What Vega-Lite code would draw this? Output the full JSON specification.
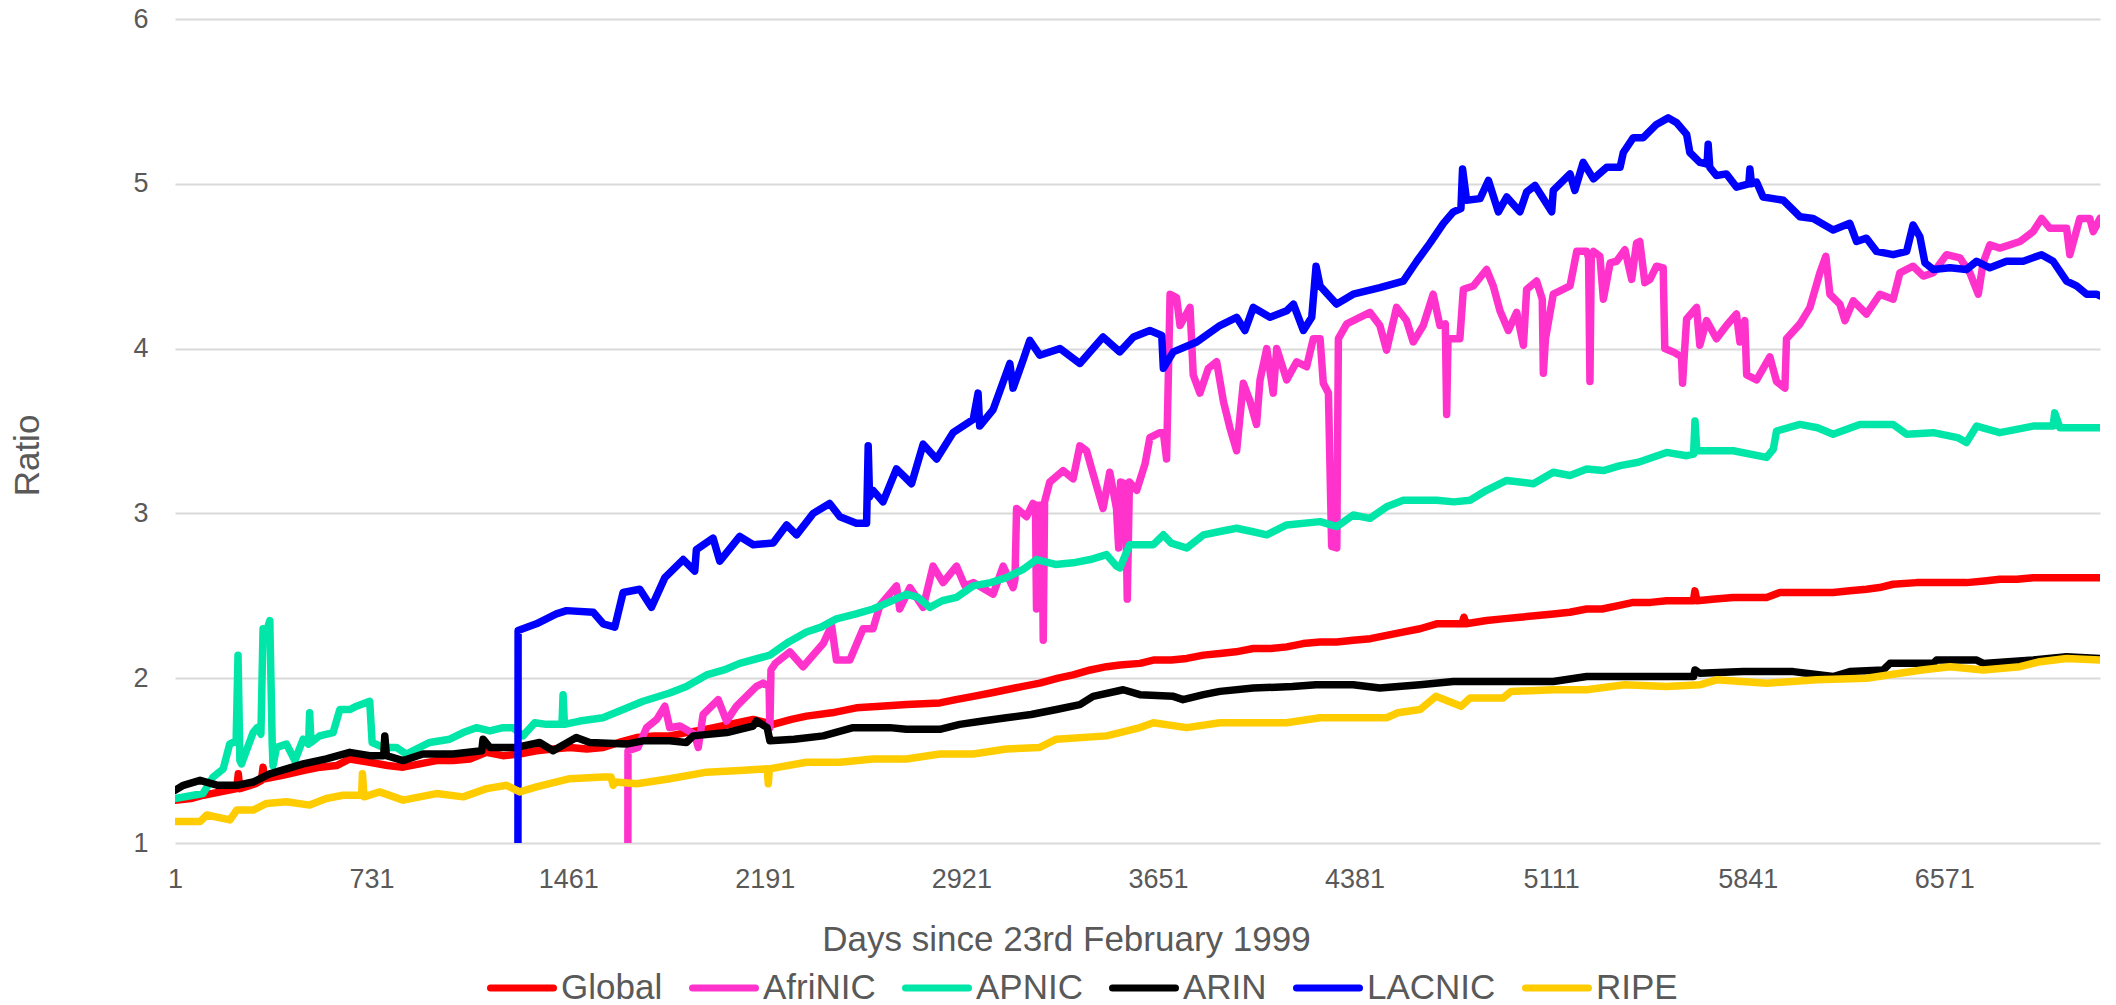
{
"$schema": "https://vega.github.io/schema/vega-lite/v6.json",
"width": 1925, "height": 824,
"autosize": {"type": "none"},
"padding": {"left": 175, "top": 19, "right": 16, "bottom": 162},
"background": "white",
"config": {"view": {"stroke": null}, "font": "Liberation Sans"},
"datasets": {
"Global": [{"d":1,"v":1.26},{"d":60,"v":1.27},{"d":106,"v":1.29},{"d":170,"v":1.31},{"d":230,"v":1.33},{"d":236,"v":1.42},{"d":242,"v":1.33},{"d":300,"v":1.36},{"d":322,"v":1.38},{"d":328,"v":1.46},{"d":334,"v":1.39},{"d":400,"v":1.41},{"d":477,"v":1.44},{"d":540,"v":1.46},{"d":601,"v":1.47},{"d":650,"v":1.51},{"d":724,"v":1.49},{"d":790,"v":1.47},{"d":848,"v":1.46},{"d":910,"v":1.48},{"d":972,"v":1.5},{"d":1034,"v":1.5},{"d":1096,"v":1.51},{"d":1158,"v":1.55},{"d":1219,"v":1.53},{"d":1280,"v":1.54},{"d":1343,"v":1.56},{"d":1405,"v":1.57},{"d":1467,"v":1.58},{"d":1530,"v":1.57},{"d":1591,"v":1.58},{"d":1650,"v":1.61},{"d":1715,"v":1.64},{"d":1780,"v":1.65},{"d":1838,"v":1.65},{"d":1900,"v":1.67},{"d":1975,"v":1.69},{"d":2060,"v":1.72},{"d":2148,"v":1.75},{"d":2222,"v":1.72},{"d":2290,"v":1.75},{"d":2346,"v":1.77},{"d":2440,"v":1.79},{"d":2531,"v":1.82},{"d":2620,"v":1.83},{"d":2717,"v":1.84},{"d":2841,"v":1.85},{"d":2900,"v":1.87},{"d":2965,"v":1.89},{"d":3030,"v":1.91},{"d":3088,"v":1.93},{"d":3150,"v":1.95},{"d":3212,"v":1.97},{"d":3280,"v":2.0},{"d":3336,"v":2.02},{"d":3400,"v":2.05},{"d":3460,"v":2.07},{"d":3510,"v":2.08},{"d":3584,"v":2.09},{"d":3634,"v":2.11},{"d":3700,"v":2.11},{"d":3758,"v":2.12},{"d":3820,"v":2.14},{"d":3881,"v":2.15},{"d":3940,"v":2.16},{"d":4005,"v":2.18},{"d":4070,"v":2.18},{"d":4129,"v":2.19},{"d":4190,"v":2.21},{"d":4253,"v":2.22},{"d":4315,"v":2.22},{"d":4376,"v":2.23},{"d":4440,"v":2.24},{"d":4500,"v":2.26},{"d":4560,"v":2.28},{"d":4624,"v":2.3},{"d":4686,"v":2.33},{"d":4780,"v":2.33},{"d":4787,"v":2.37},{"d":4795,"v":2.33},{"d":4871,"v":2.35},{"d":4930,"v":2.36},{"d":4995,"v":2.37},{"d":5060,"v":2.38},{"d":5119,"v":2.39},{"d":5180,"v":2.4},{"d":5243,"v":2.42},{"d":5300,"v":2.42},{"d":5360,"v":2.44},{"d":5416,"v":2.46},{"d":5480,"v":2.46},{"d":5540,"v":2.47},{"d":5639,"v":2.47},{"d":5645,"v":2.53},{"d":5652,"v":2.47},{"d":5720,"v":2.48},{"d":5787,"v":2.49},{"d":5850,"v":2.49},{"d":5911,"v":2.49},{"d":5960,"v":2.52},{"d":6060,"v":2.52},{"d":6158,"v":2.52},{"d":6220,"v":2.53},{"d":6282,"v":2.54},{"d":6330,"v":2.55},{"d":6381,"v":2.57},{"d":6468,"v":2.58},{"d":6560,"v":2.58},{"d":6653,"v":2.58},{"d":6720,"v":2.59},{"d":6777,"v":2.6},{"d":6840,"v":2.6},{"d":6901,"v":2.61},{"d":7000,"v":2.61},{"d":7149,"v":2.61}],
"AfriNIC": [{"d":1,"v":0},{"d":1682,"v":0},{"d":1683,"v":1.56},{"d":1720,"v":1.58},{"d":1752,"v":1.7},{"d":1790,"v":1.75},{"d":1820,"v":1.83},{"d":1838,"v":1.7},{"d":1876,"v":1.71},{"d":1930,"v":1.66},{"d":1944,"v":1.58},{"d":1962,"v":1.78},{"d":2018,"v":1.87},{"d":2049,"v":1.74},{"d":2086,"v":1.83},{"d":2160,"v":1.95},{"d":2185,"v":1.97},{"d":2207,"v":1.95},{"d":2210,"v":1.7},{"d":2214,"v":2.05},{"d":2230,"v":2.09},{"d":2284,"v":2.16},{"d":2333,"v":2.07},{"d":2408,"v":2.21},{"d":2439,"v":2.32},{"d":2457,"v":2.11},{"d":2507,"v":2.11},{"d":2556,"v":2.3},{"d":2593,"v":2.3},{"d":2618,"v":2.44},{"d":2680,"v":2.56},{"d":2692,"v":2.42},{"d":2730,"v":2.55},{"d":2779,"v":2.43},{"d":2816,"v":2.68},{"d":2853,"v":2.58},{"d":2903,"v":2.68},{"d":2934,"v":2.56},{"d":2965,"v":2.58},{"d":3039,"v":2.51},{"d":3076,"v":2.68},{"d":3113,"v":2.55},{"d":3120,"v":2.6},{"d":3126,"v":3.03},{"d":3163,"v":2.98},{"d":3187,"v":3.06},{"d":3196,"v":3.05},{"d":3200,"v":2.42},{"d":3205,"v":3.05},{"d":3220,"v":3.05},{"d":3225,"v":2.23},{"d":3230,"v":3.07},{"d":3249,"v":3.19},{"d":3299,"v":3.26},{"d":3336,"v":3.21},{"d":3361,"v":3.41},{"d":3386,"v":3.38},{"d":3410,"v":3.24},{"d":3447,"v":3.03},{"d":3472,"v":3.25},{"d":3497,"v":3.03},{"d":3505,"v":2.79},{"d":3512,"v":3.19},{"d":3530,"v":3.18},{"d":3537,"v":2.48},{"d":3545,"v":3.19},{"d":3572,"v":3.14},{"d":3603,"v":3.3},{"d":3621,"v":3.46},{"d":3658,"v":3.49},{"d":3671,"v":3.49},{"d":3683,"v":3.33},{"d":3696,"v":4.33},{"d":3720,"v":4.31},{"d":3733,"v":4.14},{"d":3770,"v":4.25},{"d":3782,"v":3.84},{"d":3807,"v":3.73},{"d":3838,"v":3.88},{"d":3869,"v":3.92},{"d":3894,"v":3.68},{"d":3918,"v":3.52},{"d":3943,"v":3.38},{"d":3968,"v":3.79},{"d":3993,"v":3.68},{"d":4017,"v":3.54},{"d":4030,"v":3.81},{"d":4055,"v":4.0},{"d":4079,"v":3.73},{"d":4092,"v":4.0},{"d":4129,"v":3.81},{"d":4166,"v":3.92},{"d":4203,"v":3.89},{"d":4228,"v":4.06},{"d":4253,"v":4.06},{"d":4265,"v":3.79},{"d":4284,"v":3.73},{"d":4296,"v":2.8},{"d":4315,"v":2.79},{"d":4321,"v":4.06},{"d":4352,"v":4.15},{"d":4438,"v":4.22},{"d":4475,"v":4.14},{"d":4500,"v":3.99},{"d":4537,"v":4.25},{"d":4574,"v":4.17},{"d":4599,"v":4.04},{"d":4636,"v":4.14},{"d":4673,"v":4.33},{"d":4698,"v":4.14},{"d":4718,"v":4.15},{"d":4723,"v":3.6},{"d":4728,"v":4.06},{"d":4772,"v":4.06},{"d":4785,"v":4.36},{"d":4822,"v":4.38},{"d":4871,"v":4.48},{"d":4896,"v":4.38},{"d":4921,"v":4.23},{"d":4952,"v":4.11},{"d":4983,"v":4.22},{"d":5008,"v":4.02},{"d":5020,"v":4.36},{"d":5057,"v":4.41},{"d":5078,"v":4.3},{"d":5082,"v":3.85},{"d":5090,"v":4.06},{"d":5119,"v":4.33},{"d":5181,"v":4.38},{"d":5206,"v":4.59},{"d":5243,"v":4.59},{"d":5250,"v":4.55},{"d":5255,"v":3.8},{"d":5260,"v":4.55},{"d":5268,"v":4.59},{"d":5292,"v":4.56},{"d":5305,"v":4.3},{"d":5330,"v":4.52},{"d":5354,"v":4.53},{"d":5385,"v":4.6},{"d":5410,"v":4.42},{"d":5428,"v":4.64},{"d":5440,"v":4.65},{"d":5459,"v":4.4},{"d":5478,"v":4.42},{"d":5502,"v":4.5},{"d":5527,"v":4.49},{"d":5533,"v":4.0},{"d":5564,"v":3.98},{"d":5595,"v":3.95},{"d":5599,"v":3.79},{"d":5605,"v":3.95},{"d":5614,"v":4.18},{"d":5651,"v":4.25},{"d":5663,"v":4.02},{"d":5688,"v":4.17},{"d":5725,"v":4.06},{"d":5762,"v":4.14},{"d":5799,"v":4.21},{"d":5812,"v":4.04},{"d":5830,"v":4.17},{"d":5837,"v":3.84},{"d":5874,"v":3.81},{"d":5923,"v":3.95},{"d":5948,"v":3.8},{"d":5979,"v":3.76},{"d":5985,"v":4.06},{"d":6035,"v":4.15},{"d":6072,"v":4.25},{"d":6109,"v":4.46},{"d":6131,"v":4.56},{"d":6146,"v":4.33},{"d":6183,"v":4.27},{"d":6202,"v":4.17},{"d":6233,"v":4.29},{"d":6282,"v":4.21},{"d":6332,"v":4.33},{"d":6381,"v":4.3},{"d":6406,"v":4.46},{"d":6455,"v":4.5},{"d":6493,"v":4.44},{"d":6530,"v":4.46},{"d":6579,"v":4.57},{"d":6629,"v":4.55},{"d":6666,"v":4.46},{"d":6697,"v":4.33},{"d":6715,"v":4.52},{"d":6740,"v":4.63},{"d":6777,"v":4.61},{"d":6852,"v":4.65},{"d":6901,"v":4.71},{"d":6932,"v":4.79},{"d":6963,"v":4.73},{"d":7025,"v":4.73},{"d":7037,"v":4.57},{"d":7074,"v":4.79},{"d":7111,"v":4.79},{"d":7124,"v":4.71},{"d":7149,"v":4.79}],
"APNIC": [{"d":1,"v":1.27},{"d":105,"v":1.3},{"d":142,"v":1.4},{"d":180,"v":1.45},{"d":204,"v":1.6},{"d":228,"v":1.62},{"d":235,"v":2.14},{"d":242,"v":1.5},{"d":248,"v":1.48},{"d":291,"v":1.67},{"d":306,"v":1.7},{"d":320,"v":1.66},{"d":328,"v":2.3},{"d":340,"v":2.28},{"d":353,"v":2.35},{"d":362,"v":1.6},{"d":365,"v":1.47},{"d":378,"v":1.58},{"d":415,"v":1.6},{"d":446,"v":1.5},{"d":477,"v":1.63},{"d":497,"v":1.6},{"d":501,"v":1.79},{"d":506,"v":1.61},{"d":538,"v":1.65},{"d":588,"v":1.67},{"d":613,"v":1.81},{"d":650,"v":1.81},{"d":675,"v":1.83},{"d":724,"v":1.86},{"d":733,"v":1.61},{"d":774,"v":1.58},{"d":823,"v":1.58},{"d":860,"v":1.54},{"d":947,"v":1.61},{"d":1021,"v":1.63},{"d":1071,"v":1.67},{"d":1120,"v":1.7},{"d":1170,"v":1.68},{"d":1219,"v":1.7},{"d":1256,"v":1.7},{"d":1293,"v":1.65},{"d":1337,"v":1.73},{"d":1380,"v":1.72},{"d":1438,"v":1.72},{"d":1442,"v":1.9},{"d":1447,"v":1.72},{"d":1504,"v":1.74},{"d":1590,"v":1.76},{"d":1665,"v":1.81},{"d":1739,"v":1.86},{"d":1838,"v":1.91},{"d":1900,"v":1.95},{"d":1975,"v":2.02},{"d":2040,"v":2.05},{"d":2098,"v":2.09},{"d":2210,"v":2.14},{"d":2280,"v":2.22},{"d":2346,"v":2.28},{"d":2400,"v":2.31},{"d":2457,"v":2.36},{"d":2530,"v":2.39},{"d":2593,"v":2.42},{"d":2650,"v":2.46},{"d":2717,"v":2.51},{"d":2760,"v":2.49},{"d":2804,"v":2.43},{"d":2850,"v":2.47},{"d":2903,"v":2.49},{"d":2965,"v":2.56},{"d":3030,"v":2.58},{"d":3088,"v":2.61},{"d":3150,"v":2.66},{"d":3200,"v":2.72},{"d":3270,"v":2.69},{"d":3336,"v":2.7},{"d":3400,"v":2.72},{"d":3460,"v":2.75},{"d":3497,"v":2.68},{"d":3510,"v":2.67},{"d":3546,"v":2.81},{"d":3634,"v":2.81},{"d":3671,"v":2.87},{"d":3700,"v":2.82},{"d":3758,"v":2.79},{"d":3820,"v":2.87},{"d":3881,"v":2.89},{"d":3943,"v":2.91},{"d":4000,"v":2.89},{"d":4055,"v":2.87},{"d":4129,"v":2.93},{"d":4253,"v":2.95},{"d":4315,"v":2.92},{"d":4376,"v":2.99},{"d":4438,"v":2.97},{"d":4500,"v":3.04},{"d":4562,"v":3.08},{"d":4686,"v":3.08},{"d":4750,"v":3.07},{"d":4810,"v":3.08},{"d":4871,"v":3.14},{"d":4946,"v":3.2},{"d":5045,"v":3.18},{"d":5119,"v":3.25},{"d":5181,"v":3.23},{"d":5243,"v":3.27},{"d":5305,"v":3.26},{"d":5367,"v":3.29},{"d":5435,"v":3.31},{"d":5540,"v":3.37},{"d":5614,"v":3.35},{"d":5640,"v":3.36},{"d":5645,"v":3.56},{"d":5652,"v":3.38},{"d":5787,"v":3.38},{"d":5911,"v":3.34},{"d":5936,"v":3.39},{"d":5948,"v":3.5},{"d":6035,"v":3.54},{"d":6100,"v":3.52},{"d":6158,"v":3.48},{"d":6257,"v":3.54},{"d":6381,"v":3.54},{"d":6431,"v":3.48},{"d":6530,"v":3.49},{"d":6620,"v":3.46},{"d":6653,"v":3.43},{"d":6691,"v":3.53},{"d":6777,"v":3.49},{"d":6901,"v":3.53},{"d":6975,"v":3.53},{"d":6981,"v":3.61},{"d":7000,"v":3.52},{"d":7149,"v":3.52}],
"ARIN": [{"d":1,"v":1.32},{"d":32,"v":1.35},{"d":94,"v":1.38},{"d":160,"v":1.35},{"d":230,"v":1.35},{"d":291,"v":1.37},{"d":353,"v":1.42},{"d":415,"v":1.45},{"d":477,"v":1.48},{"d":563,"v":1.51},{"d":650,"v":1.55},{"d":724,"v":1.53},{"d":776,"v":1.53},{"d":780,"v":1.65},{"d":786,"v":1.53},{"d":848,"v":1.5},{"d":922,"v":1.54},{"d":1034,"v":1.54},{"d":1140,"v":1.56},{"d":1145,"v":1.63},{"d":1170,"v":1.58},{"d":1269,"v":1.58},{"d":1355,"v":1.61},{"d":1405,"v":1.56},{"d":1491,"v":1.64},{"d":1541,"v":1.61},{"d":1677,"v":1.6},{"d":1739,"v":1.62},{"d":1838,"v":1.62},{"d":1900,"v":1.61},{"d":1925,"v":1.65},{"d":2050,"v":1.67},{"d":2148,"v":1.71},{"d":2160,"v":1.74},{"d":2200,"v":1.7},{"d":2210,"v":1.62},{"d":2300,"v":1.63},{"d":2408,"v":1.65},{"d":2519,"v":1.7},{"d":2655,"v":1.7},{"d":2717,"v":1.69},{"d":2841,"v":1.69},{"d":2915,"v":1.72},{"d":3000,"v":1.74},{"d":3088,"v":1.76},{"d":3180,"v":1.78},{"d":3274,"v":1.81},{"d":3361,"v":1.84},{"d":3410,"v":1.89},{"d":3522,"v":1.93},{"d":3584,"v":1.9},{"d":3708,"v":1.89},{"d":3744,"v":1.87},{"d":3820,"v":1.9},{"d":3881,"v":1.92},{"d":4005,"v":1.94},{"d":4150,"v":1.95},{"d":4238,"v":1.96},{"d":4376,"v":1.96},{"d":4475,"v":1.94},{"d":4624,"v":1.96},{"d":4748,"v":1.98},{"d":5119,"v":1.98},{"d":5243,"v":2.01},{"d":5640,"v":2.01},{"d":5645,"v":2.05},{"d":5663,"v":2.03},{"d":5824,"v":2.04},{"d":6010,"v":2.04},{"d":6158,"v":2.01},{"d":6220,"v":2.04},{"d":6344,"v":2.05},{"d":6369,"v":2.09},{"d":6530,"v":2.09},{"d":6542,"v":2.11},{"d":6691,"v":2.11},{"d":6715,"v":2.09},{"d":6901,"v":2.11},{"d":7025,"v":2.13},{"d":7149,"v":2.12}],
"LACNIC": [{"d":1,"v":0},{"d":1274,"v":0},{"d":1275,"v":2.29},{"d":1343,"v":2.33},{"d":1417,"v":2.39},{"d":1455,"v":2.41},{"d":1554,"v":2.4},{"d":1591,"v":2.33},{"d":1634,"v":2.31},{"d":1665,"v":2.52},{"d":1727,"v":2.54},{"d":1770,"v":2.43},{"d":1820,"v":2.61},{"d":1888,"v":2.72},{"d":1931,"v":2.65},{"d":1937,"v":2.78},{"d":1999,"v":2.85},{"d":2024,"v":2.71},{"d":2098,"v":2.86},{"d":2148,"v":2.81},{"d":2222,"v":2.82},{"d":2272,"v":2.93},{"d":2309,"v":2.87},{"d":2371,"v":3.0},{"d":2432,"v":3.06},{"d":2470,"v":2.98},{"d":2531,"v":2.94},{"d":2569,"v":2.94},{"d":2575,"v":3.41},{"d":2580,"v":3.1},{"d":2593,"v":3.14},{"d":2630,"v":3.07},{"d":2680,"v":3.27},{"d":2736,"v":3.18},{"d":2779,"v":3.42},{"d":2829,"v":3.33},{"d":2890,"v":3.49},{"d":2965,"v":3.57},{"d":2983,"v":3.73},{"d":2989,"v":3.53},{"d":3039,"v":3.63},{"d":3101,"v":3.91},{"d":3113,"v":3.76},{"d":3150,"v":3.93},{"d":3175,"v":4.05},{"d":3212,"v":3.96},{"d":3287,"v":4.0},{"d":3361,"v":3.91},{"d":3447,"v":4.07},{"d":3509,"v":3.98},{"d":3560,"v":4.07},{"d":3621,"v":4.11},{"d":3665,"v":4.08},{"d":3671,"v":3.88},{"d":3708,"v":3.98},{"d":3795,"v":4.04},{"d":3881,"v":4.14},{"d":3943,"v":4.19},{"d":3974,"v":4.11},{"d":4005,"v":4.25},{"d":4067,"v":4.19},{"d":4129,"v":4.23},{"d":4154,"v":4.27},{"d":4191,"v":4.11},{"d":4222,"v":4.19},{"d":4238,"v":4.5},{"d":4253,"v":4.38},{"d":4314,"v":4.27},{"d":4376,"v":4.33},{"d":4475,"v":4.37},{"d":4562,"v":4.41},{"d":4612,"v":4.53},{"d":4661,"v":4.64},{"d":4711,"v":4.76},{"d":4748,"v":4.83},{"d":4776,"v":4.85},{"d":4782,"v":5.09},{"d":4797,"v":4.9},{"d":4847,"v":4.91},{"d":4878,"v":5.02},{"d":4915,"v":4.83},{"d":4946,"v":4.92},{"d":4995,"v":4.83},{"d":5020,"v":4.95},{"d":5051,"v":4.99},{"d":5113,"v":4.83},{"d":5119,"v":4.96},{"d":5181,"v":5.06},{"d":5199,"v":4.96},{"d":5230,"v":5.13},{"d":5268,"v":5.03},{"d":5317,"v":5.1},{"d":5367,"v":5.1},{"d":5379,"v":5.19},{"d":5416,"v":5.28},{"d":5453,"v":5.28},{"d":5502,"v":5.36},{"d":5546,"v":5.4},{"d":5577,"v":5.37},{"d":5614,"v":5.3},{"d":5626,"v":5.19},{"d":5663,"v":5.13},{"d":5690,"v":5.12},{"d":5694,"v":5.24},{"d":5700,"v":5.1},{"d":5725,"v":5.05},{"d":5762,"v":5.06},{"d":5799,"v":4.98},{"d":5845,"v":5.0},{"d":5849,"v":5.09},{"d":5855,"v":5.0},{"d":5874,"v":5.01},{"d":5898,"v":4.92},{"d":5936,"v":4.91},{"d":5973,"v":4.9},{"d":6035,"v":4.8},{"d":6084,"v":4.79},{"d":6158,"v":4.72},{"d":6220,"v":4.76},{"d":6245,"v":4.65},{"d":6282,"v":4.67},{"d":6319,"v":4.59},{"d":6381,"v":4.57},{"d":6431,"v":4.59},{"d":6455,"v":4.75},{"d":6480,"v":4.68},{"d":6499,"v":4.52},{"d":6530,"v":4.48},{"d":6592,"v":4.49},{"d":6653,"v":4.48},{"d":6691,"v":4.53},{"d":6740,"v":4.49},{"d":6802,"v":4.53},{"d":6864,"v":4.53},{"d":6932,"v":4.57},{"d":6975,"v":4.53},{"d":7025,"v":4.41},{"d":7062,"v":4.38},{"d":7099,"v":4.33},{"d":7136,"v":4.33},{"d":7149,"v":4.32}],
"RIPE": [{"d":1,"v":1.13},{"d":94,"v":1.13},{"d":119,"v":1.17},{"d":205,"v":1.14},{"d":230,"v":1.2},{"d":291,"v":1.2},{"d":341,"v":1.24},{"d":415,"v":1.25},{"d":501,"v":1.23},{"d":563,"v":1.27},{"d":625,"v":1.29},{"d":694,"v":1.29},{"d":697,"v":1.42},{"d":703,"v":1.28},{"d":761,"v":1.31},{"d":848,"v":1.26},{"d":972,"v":1.3},{"d":1071,"v":1.28},{"d":1158,"v":1.33},{"d":1232,"v":1.35},{"d":1281,"v":1.31},{"d":1343,"v":1.34},{"d":1467,"v":1.39},{"d":1591,"v":1.4},{"d":1620,"v":1.4},{"d":1628,"v":1.35},{"d":1636,"v":1.37},{"d":1715,"v":1.36},{"d":1838,"v":1.39},{"d":1975,"v":1.43},{"d":2098,"v":1.44},{"d":2200,"v":1.45},{"d":2204,"v":1.36},{"d":2208,"v":1.45},{"d":2346,"v":1.49},{"d":2470,"v":1.49},{"d":2593,"v":1.51},{"d":2717,"v":1.51},{"d":2841,"v":1.54},{"d":2965,"v":1.54},{"d":3088,"v":1.57},{"d":3212,"v":1.58},{"d":3274,"v":1.63},{"d":3460,"v":1.65},{"d":3510,"v":1.67},{"d":3584,"v":1.7},{"d":3634,"v":1.73},{"d":3758,"v":1.7},{"d":3881,"v":1.73},{"d":4129,"v":1.73},{"d":4253,"v":1.76},{"d":4500,"v":1.76},{"d":4542,"v":1.79},{"d":4624,"v":1.81},{"d":4683,"v":1.89},{"d":4777,"v":1.83},{"d":4810,"v":1.88},{"d":4933,"v":1.88},{"d":4962,"v":1.92},{"d":5119,"v":1.93},{"d":5243,"v":1.93},{"d":5384,"v":1.96},{"d":5540,"v":1.95},{"d":5663,"v":1.96},{"d":5725,"v":1.99},{"d":5911,"v":1.97},{"d":6096,"v":1.99},{"d":6282,"v":2.0},{"d":6406,"v":2.03},{"d":6487,"v":2.05},{"d":6592,"v":2.07},{"d":6715,"v":2.05},{"d":6852,"v":2.07},{"d":6926,"v":2.1},{"d":7025,"v":2.12},{"d":7149,"v":2.11}]
},
"encoding": {
"x": {"field": "d", "type": "quantitative",
 "scale": {"domain": [1, 7149], "nice": false, "zero": false},
 "axis": {"values": [1,731,1461,2191,2921,3651,4381,5111,5841,6571], "format": "d", "grid": false, "domain": false, "ticks": false,
  "labelFontSize": 27, "labelColor": "#595959", "labelPadding": 23, "labelFlush": false,
  "title": "Days since 23rd February 1999", "titleFontSize": 35, "titleColor": "#595959", "titleFontWeight": "normal",
  "titleX": 891, "titleY": 107, "titleBaseline": "alphabetic", "titleAlign": "center"}},
"y": {"field": "v", "type": "quantitative",
 "scale": {"domain": [1, 6], "nice": false, "zero": false},
 "axis": {"values": [1,2,3,4,5,6], "grid": true, "gridColor": "#d9d9d9", "gridWidth": 2, "domain": false, "ticks": false,
  "labelFontSize": 27, "labelColor": "#595959", "labelPadding": 27,
  "title": "Ratio", "titleFontSize": 35, "titleColor": "#595959", "titleFontWeight": "normal",
  "titleX": -148, "titleY": 436, "titleBaseline": "middle", "titleAlign": "center", "titleAngle": -90}}
},
"layer": [
{"data": {"name": "Global"}, "mark": {"type": "line", "strokeWidth": 7.5, "clip": true, "strokeJoin": "round", "strokeCap": "round"},
 "encoding": {"color": {"datum": "Global", "type": "nominal",
  "scale": {"domain": ["Global","AfriNIC","APNIC","ARIN","LACNIC","RIPE"], "range": ["#FF0000","#FF33CC","#00E6A8","#000000","#0000FF","#FFCC00"]},
  "legend": {"orient": "none", "legendX": 312, "legendY": 934, "direction": "horizontal", "title": null,
   "symbolType": "stroke", "symbolSize": 3969, "symbolStrokeWidth": 7,
   "labelFontSize": 35, "labelColor": "#595959", "labelOffset": 4, "columnPadding": 15, "labelLimit": 400,
   "encode": {"symbols": {"update": {"strokeCap": {"value": "round"}}}}}}}},
{"data": {"name": "AfriNIC"}, "mark": {"type": "line", "strokeWidth": 7.5, "clip": true, "strokeJoin": "round", "strokeCap": "round"},
 "encoding": {"color": {"datum": "AfriNIC", "type": "nominal"}}},
{"data": {"name": "APNIC"}, "mark": {"type": "line", "strokeWidth": 7.5, "clip": true, "strokeJoin": "round", "strokeCap": "round"},
 "encoding": {"color": {"datum": "APNIC", "type": "nominal"}}},
{"data": {"name": "ARIN"}, "mark": {"type": "line", "strokeWidth": 7.5, "clip": true, "strokeJoin": "round", "strokeCap": "round"},
 "encoding": {"color": {"datum": "ARIN", "type": "nominal"}}},
{"data": {"name": "LACNIC"}, "mark": {"type": "line", "strokeWidth": 7.5, "clip": true, "strokeJoin": "round", "strokeCap": "round"},
 "encoding": {"color": {"datum": "LACNIC", "type": "nominal"}}},
{"data": {"name": "RIPE"}, "mark": {"type": "line", "strokeWidth": 7.5, "clip": true, "strokeJoin": "round", "strokeCap": "round"},
 "encoding": {"color": {"datum": "RIPE", "type": "nominal"}}}
]
}
